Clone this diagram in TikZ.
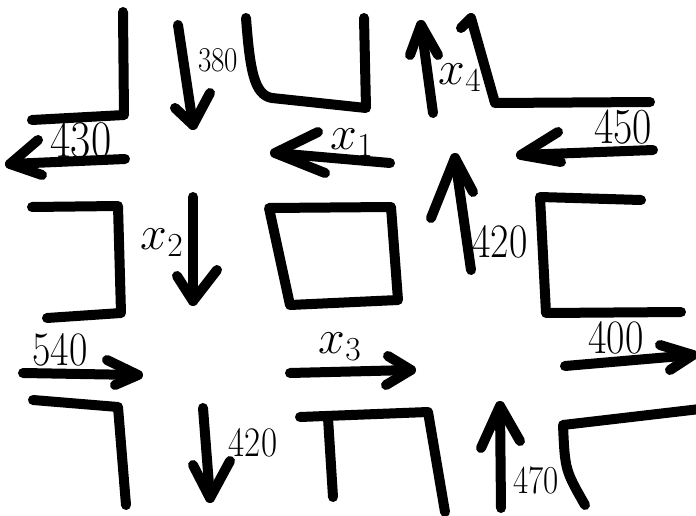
\RequirePackage{fix-cm}
\documentclass[tikz,border=0pt]{standalone}
\newcommand\tallnum[1]{\scalebox{1}[1.2]{#1}}
\begin{document}
\begin{tikzpicture}[x=1pt,y=-1pt]
\tikzset{
  wall/.style={line width=10pt, line cap=round, line join=round},
  arr/.style={line width=10pt, line cap=round, line join=round},
  num/.style={font=\fontsize{40}{46}\selectfont, inner sep=0pt},
  var/.style={font=\fontsize{48}{54}\selectfont, inner sep=0pt}
}
\useasboundingbox (0,0) rectangle (696,516);
% walls
\draw[wall] (123,12) -- (124,115) -- (32,120);
\draw[wall] (246,18) .. controls (250,70) and (254,95) .. (272,98) -- (366,108) -- (364,18);
\draw[wall] (461,28) -- (471,18) -- (495,103) -- (650,102);
\draw[wall] (32,207) -- (118,206) -- (121,313) -- (47,318);
\draw[wall] (269,208) -- (391,207) -- (398,300) -- (290,305) -- cycle;
\draw[wall] (641,200) -- (540,197) -- (546,313) -- (681,312);
\draw[wall] (33,400) -- (118,407) -- (126,505);
\draw[wall] (300,417) -- (428,412) -- (445,512);
\draw[wall] (328,418) -- (333,497);
\draw[wall] (700,409) -- (563,425) .. controls (565,470) .. (585,505);
% arrows
\coordinate (a1s) at (178,25);  \coordinate (a1t) at (193,125);
\draw[arr] (a1s) -- (a1t); \draw[arr] (175,108) -- (a1t) -- (210,93);
\coordinate (a2s) at (125,159); \coordinate (a2t) at (10,164);
\draw[arr] (a2s) -- (a2t); \draw[arr] (38,140) -- (a2t) -- (42,175);
\coordinate (a3s) at (390,163); \coordinate (a3t) at (275,153);
\draw[arr] (a3s) -- (a3t); \draw[arr] (318,132) -- (a3t) -- (325,173);
\coordinate (a4s) at (433,113); \coordinate (a4t) at (421,25);
\draw[arr] (a4s) -- (a4t); \draw[arr] (410,55) -- (a4t) -- (438,55);
\coordinate (a5s) at (653,150); \coordinate (a5t) at (521,155);
\draw[arr] (a5s) -- (a5t); \draw[arr] (558,132) -- (a5t) -- (561,162);
\coordinate (a6s) at (193,197); \coordinate (a6t) at (193,301);
\draw[arr] (a6s) -- (a6t); \draw[arr] (177,276) -- (a6t) -- (217,270);
\coordinate (a7s) at (471,270); \coordinate (a7t) at (455,158);
\draw[arr] (a7s) -- (a7t); \draw[arr] (431,218) -- (a7t) -- (473,192);
\coordinate (a8s) at (23,373); \coordinate (a8t) at (138,375);
\draw[arr] (a8s) -- (a8t); \draw[arr] (107,360) -- (a8t) -- (115,385);
\coordinate (a9s) at (290,373); \coordinate (a9t) at (411,370);
\draw[arr] (a9s) -- (a9t); \draw[arr] (388,356) -- (a9t) -- (386,385);
\coordinate (a10s) at (565,366); \coordinate (a10t) at (693,355);
\draw[arr] (a10s) -- (a10t); \draw[arr] (660,345) -- (a10t) -- (670,370);
\coordinate (a11s) at (203,408); \coordinate (a11t) at (210,498);
\draw[arr] (a11s) -- (a11t); \draw[arr] (193,465) -- (a11t) -- (230,461);
\coordinate (a12s) at (501,508); \coordinate (a12t) at (500,406);
\draw[arr] (a12s) -- (a12t); \draw[arr] (481,448) -- (a12t) -- (520,441);
% labels
\node[num, font=\fontsize{29}{34}\selectfont] (l380) at (218,60) {\tallnum{380}};
\node[num, font=\fontsize{44}{50}\selectfont] (l430) at (81,140) {\tallnum{430}};
\node[var] (lx1) at (352,143) {$x_1$};
\node[var] (lx4) at (460,78) {$x_4$};
\node[num, font=\fontsize{42}{48}\selectfont] (l450) at (623,127) {\tallnum{450}};
\node[var] (lx2) at (162,243) {$x_2$};
\node[num] (l420a) at (500,242) {\tallnum{420}};
\node[num] (l540) at (60,350) {\tallnum{540}};
\node[var] (lx3) at (340,347) {$x_3$};
\node[num] (l400) at (616,338) {\tallnum{400}};
\node[num, font=\fontsize{35}{40}\selectfont] (l420b) at (253,443) {\tallnum{420}};
\node[num, font=\fontsize{33}{38}\selectfont] (l470) at (536,480) {\tallnum{470}};
\end{tikzpicture}
\end{document}
